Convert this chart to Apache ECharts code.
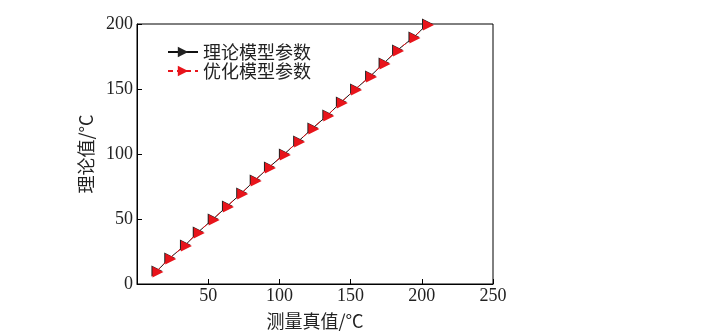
<!DOCTYPE html>
<html>
<head>
<meta charset="utf-8">
<script src="https://cdn.jsdelivr.net/npm/echarts@6/dist/echarts.min.js"></script>
<style>
html,body{margin:0;padding:0;background:#fff;}
#chart{width:703px;height:336px;}
</style>
</head>
<body>
<div id="chart"></div>
<script>
// Measured true temperature (°C) against computed values (°C)
const measured = [14, 23, 34, 43, 53.5, 63.5, 73.5, 83, 93, 103.5, 113.5, 123.5, 134, 143.5, 153.5, 164, 173.5, 183, 194.5, 204];
const theoretical = [10, 20, 30, 40, 50, 60, 70, 80, 90, 100, 110, 120, 130, 140, 150, 160, 170, 180, 190, 200];
const optimized = [10, 20, 30, 40, 50, 60, 70, 80, 90, 100, 110, 120, 130, 140, 150, 160, 170, 180, 190, 200];
const seriesNames = ['理论模型参数', '优化模型参数'];
const xTicks = [0, 50, 100, 150, 200, 250];
const yTicks = [0, 50, 100, 150, 200];

const pairs = (xs, ys) => xs.map((x, i) => [x, ys[i]]);

const serif = '"Liberation Serif", "Times New Roman", serif';
const cjk = '"Noto Sans CJK SC", sans-serif';

const chart = echarts.init(document.getElementById('chart'), null, {renderer: 'canvas'});
chart.setOption({
  animation: false,
  backgroundColor: '#fff',
  grid: {
    left: 137, right: 210, top: 24, bottom: 52,
    show: true, borderColor: '#000', borderWidth: 1
  },
  legend: {
    left: 162, top: 38, orient: 'vertical',
    itemWidth: 30, itemHeight: 13, itemGap: 1,
    textStyle: {fontFamily: cjk, fontSize: 18, color: '#222', padding: [0, 0, 0, 0]},
    data: seriesNames
  },
  xAxis: {
    type: 'value', min: xTicks[0], max: xTicks[xTicks.length - 1], interval: 50,
    name: '测量真值/°C', nameLocation: 'middle', nameGap: 28,
    nameTextStyle: {fontFamily: cjk, fontSize: 18, color: '#222'},
    axisLine: {lineStyle: {color: '#000', width: 1}},
    axisTick: {inside: true, length: 5, lineStyle: {color: '#000'}},
    axisLabel: {
      fontFamily: serif, fontSize: 18, color: '#222', margin: 3,
      formatter: v => (v === xTicks[0] ? '' : String(v))
    },
    splitLine: {show: false}
  },
  yAxis: {
    type: 'value', min: yTicks[0], max: yTicks[yTicks.length - 1], interval: 50,
    name: '理论值/°C', nameLocation: 'middle', nameGap: 35, nameRotate: 90,
    nameTextStyle: {fontFamily: cjk, fontSize: 18, color: '#222'},
    axisLine: {lineStyle: {color: '#000', width: 1}},
    axisTick: {inside: true, length: 5, lineStyle: {color: '#000'}},
    axisLabel: {fontFamily: serif, fontSize: 18, color: '#222', margin: 4},
    splitLine: {show: false}
  },
  series: [
    {
      name: seriesNames[0], type: 'line',
      data: pairs(measured, theoretical),
      symbol: 'triangle', symbolRotate: -90, symbolSize: [11, 11],
      lineStyle: {color: '#111', width: 1},
      itemStyle: {color: '#222', borderColor: '#222', borderWidth: 0},
      z: 2
    },
    {
      name: seriesNames[1], type: 'line',
      data: pairs(measured, optimized),
      symbol: 'triangle', symbolRotate: -90, symbolSize: [11, 11], symbolOffset: [1, 1],
      lineStyle: {color: '#e8141b', width: 1, type: [5, 4]},
      itemStyle: {color: '#e8141b'},
      z: 3
    }
  ]
});
</script>
</body>
</html>
